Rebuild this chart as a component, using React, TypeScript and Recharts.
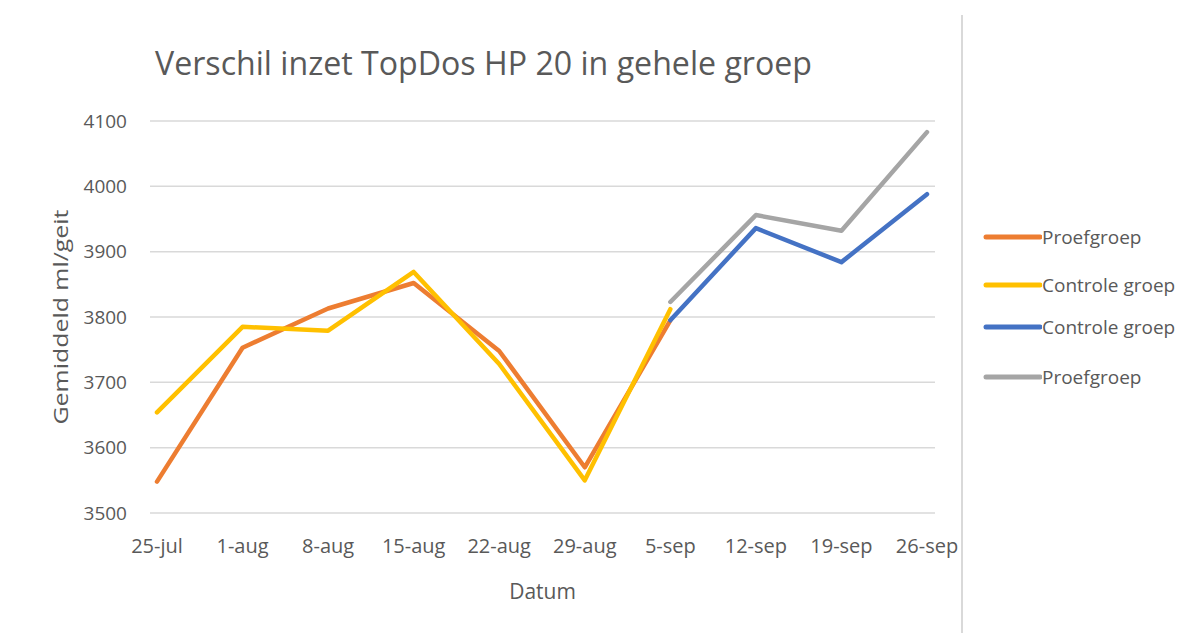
import { LineChart, Line, XAxis, YAxis, CartesianGrid } from 'recharts';

const categories = ['25-jul', '1-aug', '8-aug', '15-aug', '22-aug', '29-aug', '5-sep', '12-sep', '19-sep', '26-sep'];
const proefgroep1 = [3548, 3753, 3813, 3852, 3748, 3570, 3795, null, null, null];
const controle1 = [3654, 3785, 3779, 3869, 3728, 3550, 3812, null, null, null];
const controle2 = [null, null, null, null, null, null, 3795, 3936, 3884, 3988];
const proefgroep2 = [null, null, null, null, null, null, 3823, 3956, 3932, 4083];
const yTicks = [3500, 3600, 3700, 3800, 3900, 4000, 4100];

const FONT = '"Open Sans", sans-serif';
const TEXT = '#595959';

const series = [
  { key: 'p1', name: 'Proefgroep', color: '#ED7D31' },
  { key: 'c1', name: 'Controle groep', color: '#FFC000' },
  { key: 'c2', name: 'Controle groep', color: '#4472C4' },
  { key: 'p2', name: 'Proefgroep', color: '#A5A5A5' },
];

const data = categories.map((label, i) => ({
  label,
  p1: proefgroep1[i],
  c1: controle1[i],
  c2: controle2[i],
  p2: proefgroep2[i],
}));

// legend rows are not evenly spaced in the original (row centres)
const legendRows = [237, 285, 327, 377];

const LegendBox = () => (
  <div style={{ position: 'absolute', left: 0, top: 0, fontFamily: FONT, fontSize: 19, color: TEXT }}>
    {series.map((s, i) => (
      <div
        key={s.key}
        style={{ position: 'absolute', left: 982, top: legendRows[i] - 12, display: 'flex', alignItems: 'center', height: 24 }}
      >
        <svg width={60} height={10}>
          <line x1={4} y1={5} x2={58} y2={5} stroke={s.color} strokeWidth={5} strokeLinecap="round" />
        </svg>
        <span style={{ whiteSpace: 'nowrap' }}>{s.name}</span>
      </div>
    ))}
  </div>
);

const YTitle = ({ viewBox }: any) => {
  const x = viewBox.x + 20;
  const y = viewBox.y + viewBox.height / 2;
  return (
    <text
      x={x}
      y={y}
      transform={`rotate(-90 ${x} ${y})`}
      textAnchor="middle"
      dominantBaseline="central"
      fontSize={20}
      fill={TEXT}
      fontFamily={FONT}
      textLength={215}
      lengthAdjust="spacingAndGlyphs"
    >
      Gemiddeld ml/geit
    </text>
  );
};

export default function App() {
  return (
    <div style={{ position: 'fixed', left: 0, top: 0, width: 1193, height: 633, background: '#fff' }}>
      <LineChart
        width={1193}
        height={633}
        data={data}
        margin={{ top: 121, right: 258, left: 40, bottom: 30 }}
      >
        <CartesianGrid horizontal vertical={false} stroke="#d9d9d9" strokeWidth={1.5} />
        <XAxis
          dataKey="label"
          axisLine={false}
          tickLine={false}
          tickMargin={20}
          height={90}
          padding={{ left: 7, right: 8 }}
          interval={0}
          tick={{ fontSize: 20, fill: TEXT, fontFamily: FONT }}
          label={{ value: 'Datum', position: 'insideBottom', offset: 4, fontSize: 21, fill: TEXT, fontFamily: FONT }}
        />
        <YAxis
          domain={[3500, 4100]}
          ticks={yTicks}
          width={110}
          axisLine={false}
          tickLine={false}
          tickMargin={17}
          tick={{ fontSize: 19, fill: TEXT, fontFamily: FONT }}
          label={<YTitle />}
        />
        {series.map((s) => (
          <Line
            key={s.key}
            dataKey={s.key}
            name={s.name}
            stroke={s.color}
            strokeWidth={4.5}
            strokeLinejoin="round"
            strokeLinecap="round"
            dot={false}
            activeDot={false}
            connectNulls={false}
            isAnimationActive={false}
          />
        ))}
      </LineChart>
      <svg width={1193} height={633} style={{ position: 'absolute', left: 0, top: 0, pointerEvents: 'none' }}>
        <text
          x={155}
          y={75}
          fontSize={32}
          fill={TEXT}
          fontFamily={FONT}
          textLength={657}
          lengthAdjust="spacingAndGlyphs"
        >
          Verschil inzet TopDos HP 20 in gehele groep
        </text>
        <line x1={962} y1={15} x2={962} y2={633} stroke="#d9d9d9" strokeWidth={2} />
      </svg>
      <LegendBox />
    </div>
  );
}
